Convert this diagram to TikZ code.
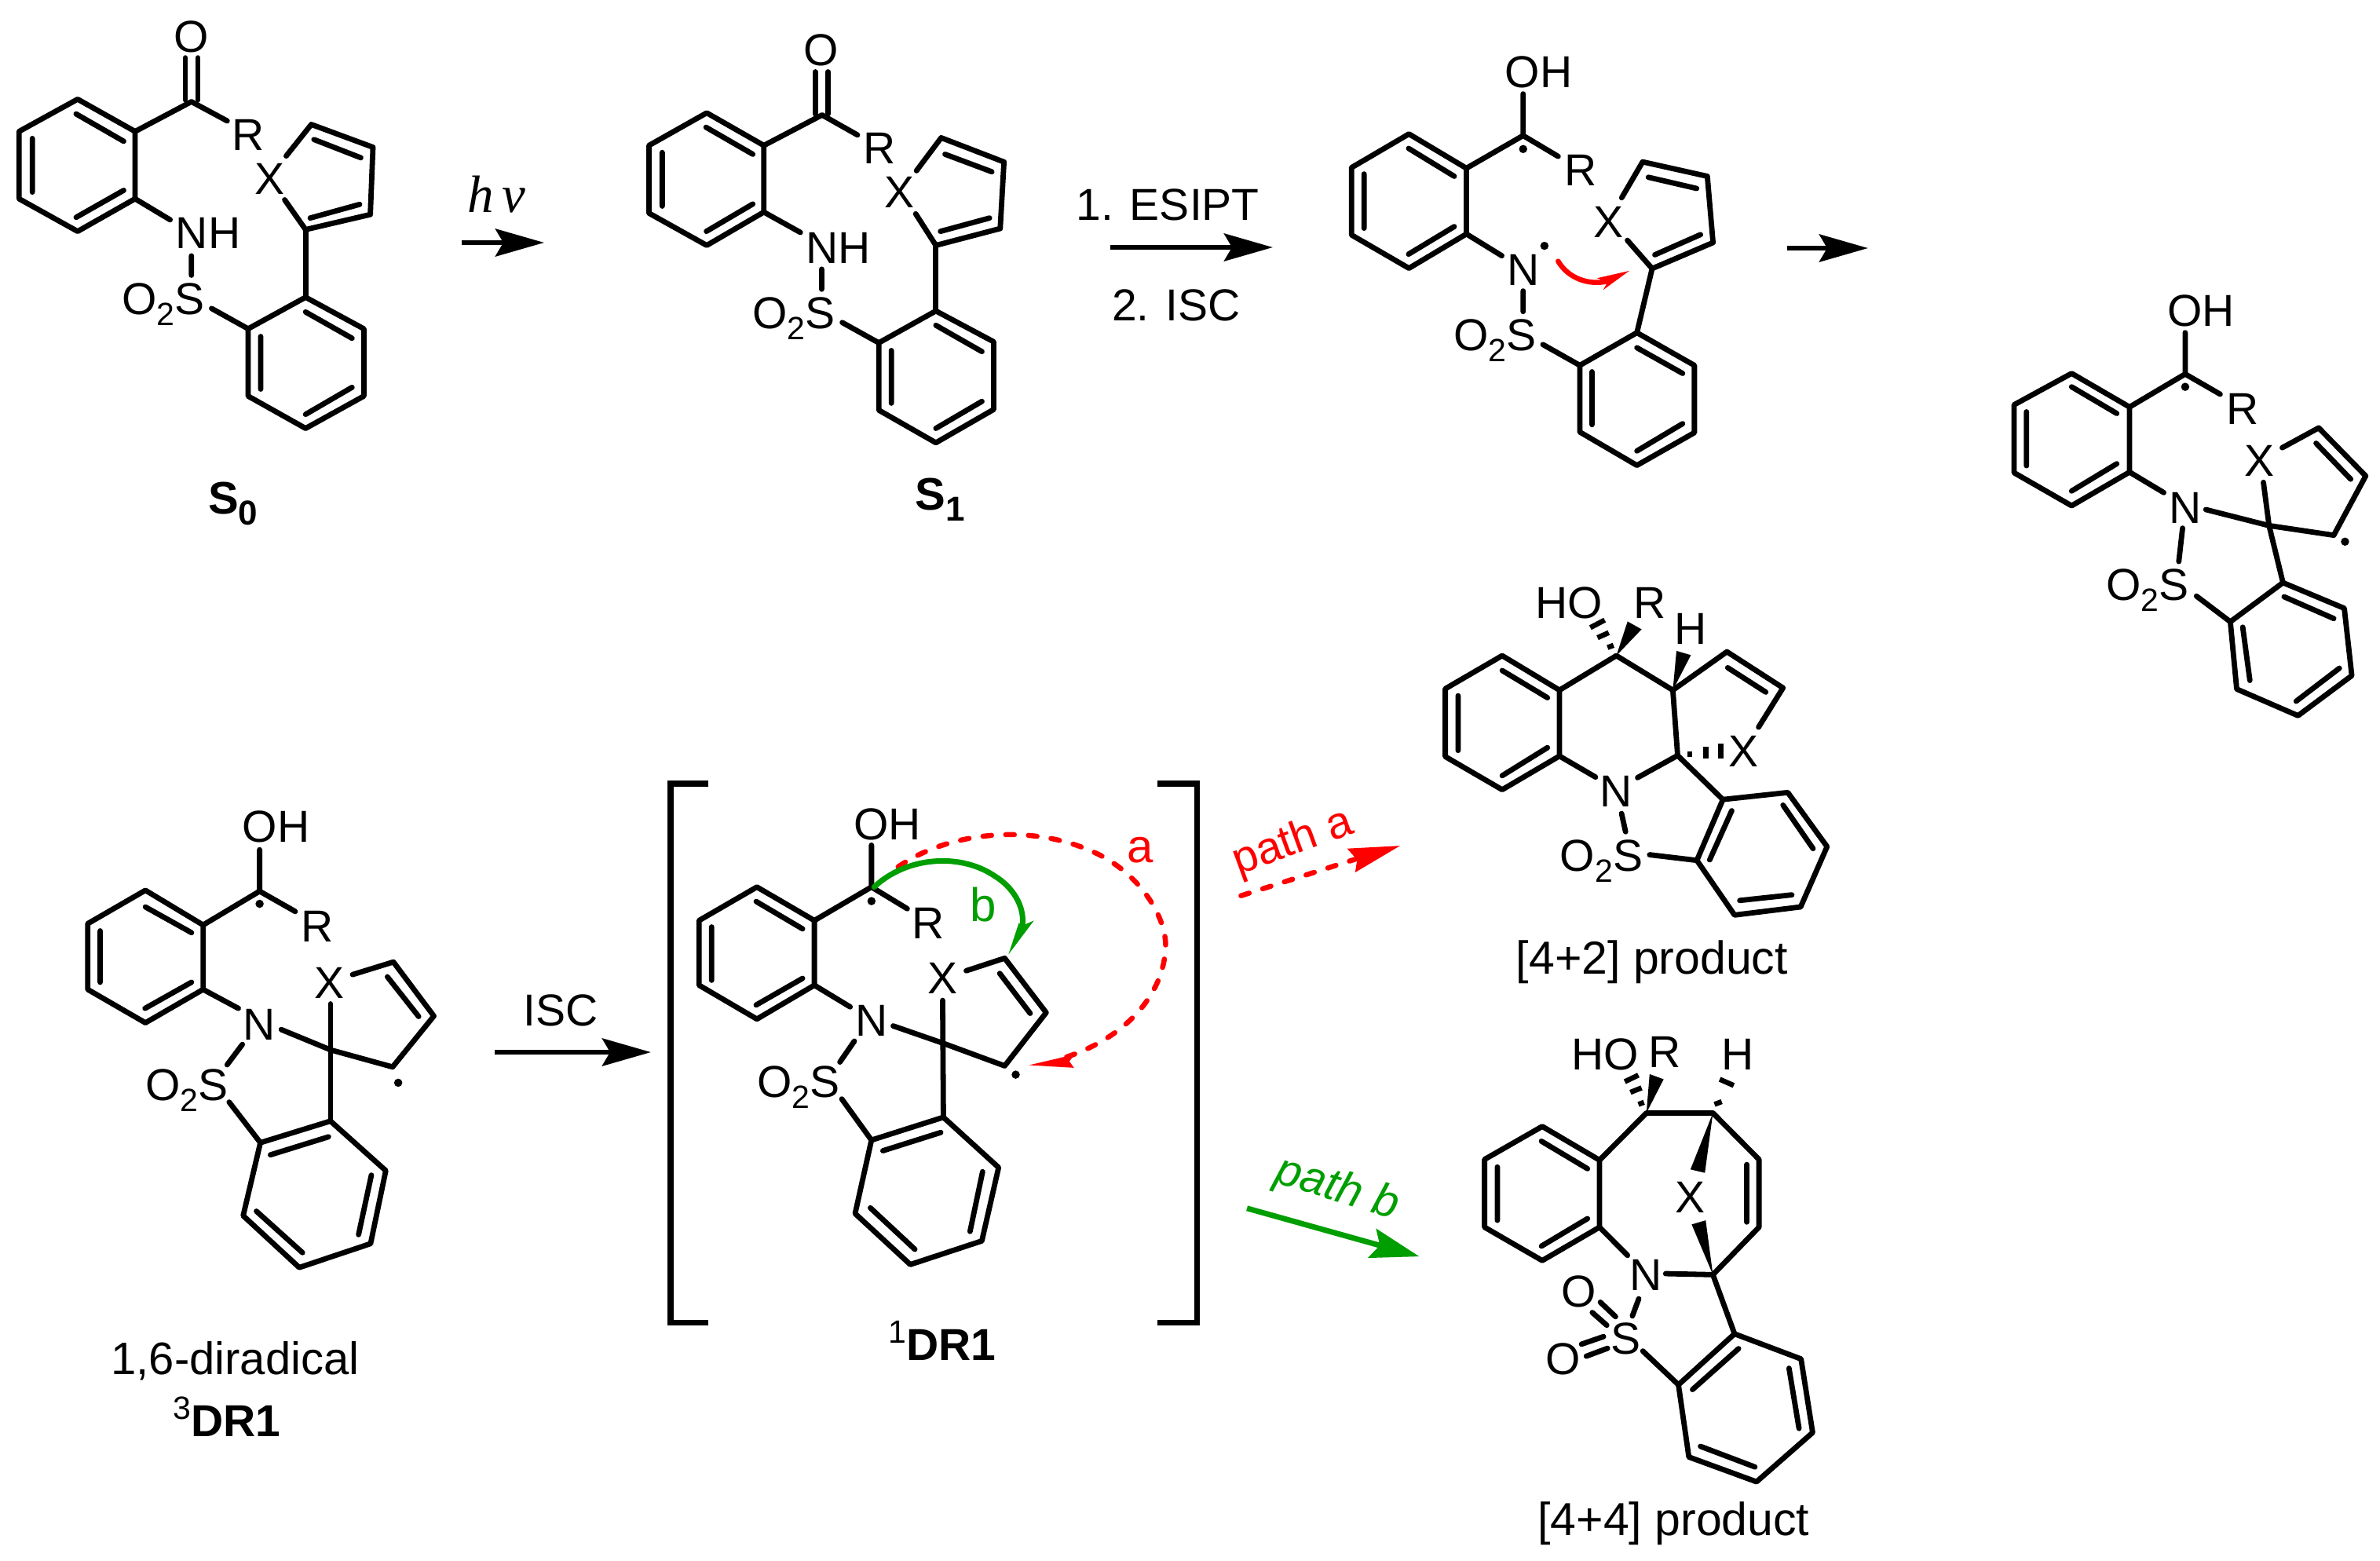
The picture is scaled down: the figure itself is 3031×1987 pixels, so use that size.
\documentclass[tikz,border=0pt]{standalone}
\usepackage{fontspec}
\setmainfont{Liberation Sans}
\newfontfamily\tmsfont{Liberation Serif}
\usetikzlibrary{arrows.meta}
\definecolor{grn}{RGB}{0,158,0}
\newcommand{\subn}[1]{\raisebox{-14pt}{\fontsize{41}{41}\selectfont #1}}
\newcommand{\subb}[1]{\raisebox{-14pt}{\fontsize{44}{44}\selectfont\bfseries #1}}
\newcommand{\supn}[1]{\raisebox{22pt}{\fontsize{41}{41}\selectfont #1}}
\tikzset{
  zm/.style n args={4}{shift={(#1,#2)},xscale=#3/1568,yscale=#4/1568},
  bond/.style={draw=black,line width=6.8pt,line cap=round,line join=round},
  bar/.style={draw=black,line width=7.5pt,line cap=butt,line join=miter},
  atom/.style={font=\fontsize{57}{60}\selectfont,inner sep=0pt,outer sep=0pt,anchor=base,text=black},
  atomr/.style={atom,anchor=base east},
  dot/.style={circle,fill=black,inner sep=0pt,minimum size=10.5pt},
  rxn/.style={draw=black,line width=6.5pt,-{Stealth[length=62pt,width=35pt,inset=10pt]}},
  wedge/.style={fill=black,draw=none},
}
\begin{document}
\begin{tikzpicture}[x=1pt,y=-1pt]
\useasboundingbox (0,0) rectangle (3031,1987);
\fill[white] (0,0) rectangle (3031,1987);
% ---------- S0
\begin{scope}[zm={0}{0}{760}{700}]
\draw[bond] (204,283)--(355,375)--(355,567)--(204,660)--(50,567)--(50,375)--cycle;
\draw[bond] (200,325)--(325,403) (325,543)--(200,620) (85,395)--(85,548);
\draw[bond] (355,375)--(503,290)--(597,345);
\draw[bond] (487,165)--(487,285) (520,165)--(520,285);
\draw[bond] (355,567)--(447,627) (503,730)--(503,785) (556,880)--(652,938);
\draw[bond] (803,848)--(956,938)--(956,1130)--(803,1222)--(652,1130)--(652,938)--cycle;
\draw[bond] (803,890)--(925,965) (925,1105)--(803,1182) (685,960)--(685,1110);
\draw[bond] (803,848)--(803,655);
\draw[bond] (748,570)--(803,655)--(973,612)--(980,420)--(818,355)--(752,445);
\draw[bond] (815,622)--(945,583) (948,450)--(825,398);
\node[atom] (s0o) at (503,148) {O};
\node[atom] (s0r) at (653,430) {R};
\node[atom] (s0x) at (708,555) {X};
\node[atom] (s0nh) at (547,710) {NH};
\node[atomr] (s0s) at (537,897) {O\subn{2}S};
\node[atom,font=\fontsize{67}{60}\selectfont\tmsfont\itshape] (hnu) at (1305,605) {h\,ν};
\node[atom,font=\fontsize{58}{60}\selectfont\bfseries] (s0lab) at (612,1465) {S\subb{0}};
\end{scope}
% ---------- S1
\begin{scope}[zm={760}{0}{760}{700}]
\draw[bond] (289,322)--(439,415)--(439,605)--(289,700)--(137,608)--(137,415)--cycle;
\draw[bond] (287,363)--(410,440) (410,582)--(288,660) (172,435)--(172,588);
\draw[bond] (439,415)--(592,328)--(685,385);
\draw[bond] (574,205)--(574,325) (608,205)--(608,325);
\draw[bond] (439,605)--(535,663) (591,768)--(591,825) (645,920)--(741,978);
\draw[bond] (891,887)--(1043,975)--(1043,1168)--(891,1263)--(741,1170)--(741,978)--cycle;
\draw[bond] (891,928)--(1012,1003) (1012,1145)--(891,1222) (774,1000)--(774,1150);
\draw[bond] (891,887)--(891,700);
\draw[bond] (838,610)--(891,700)--(1060,652)--(1070,462)--(905,393)--(840,487);
\draw[bond] (903,660)--(1032,622) (1038,490)--(915,440);
\node[atom] (s1o) at (590,187) {O};
\node[atom] (s1r) at (742,468) {R};
\node[atom] (s1x) at (795,592) {X};
\node[atom] (s1nh) at (635,752) {NH};
\node[atomr] (s1s) at (626,938) {O\subn{2}S};
\node[atom,font=\fontsize{58}{60}\selectfont\bfseries] (s1lab) at (902,1455) {S\subb{1}};
\end{scope}
% ---------- triplet N radical
\begin{scope}[zm={1520}{0}{760}{640}]
\draw[bond] (566,418)--(717,525)--(717,730)--(566,837)--(415,733)--(415,523)--cycle;
\draw[bond] (565,463)--(685,550) (685,707)--(565,793) (448,543)--(448,712);
\draw[bond] (717,525)--(866,423)--(958,488) (866,293)--(866,423);
\draw[bond] (717,730)--(810,798) (866,908)--(866,972) (918,1075)--(1015,1140);
\draw[bond] (1165,1038)--(1316,1140)--(1316,1350)--(1165,1452)--(1015,1348)--(1015,1140)--cycle;
\draw[bond] (1165,1085)--(1285,1165) (1285,1322)--(1165,1407) (1047,1160)--(1047,1325);
\draw[bond] (1165,1038)--(1205,838);
\draw[bond] (1140,750)--(1205,838)--(1365,757)--(1350,550)--(1180,505)--(1125,617);
\draw[bond] (1212,795)--(1332,732) (1322,588)--(1195,553);
\node[atom] (t1oh) at (907,272) {OH};
\node[atom] (t1r) at (1017,580) {R};
\node[atom] (t1n) at (866,890) {N};
\node[atom] (t1x) at (1090,740) {X};
\node[atomr] (t1s) at (900,1095) {O\subn{2}S};
\node[dot] (t1d1) at (866,465) {};
\node[dot] (t1d2) at (922,767) {};
\draw[red,line width=6.5pt,line cap=round] (958,815) .. controls (985,870) and (1040,890) .. (1085,878);
\fill[red] (1145,845)--(1076,905)--(1088,880)--(1060,868)--cycle;
\end{scope}
% ---------- top-right diradical
\begin{scope}[zm={2280}{300}{751}{640}]
\draw[bond] (748,430)--(902,535)--(902,738)--(748,843)--(595,740)--(595,528)--cycle;
\draw[bond] (748,472)--(868,555) (868,712)--(748,797) (628,550)--(628,718);
\draw[bond] (902,535)--(1050,432)--(1143,495) (1050,303)--(1050,432);
\draw[bond] (902,738)--(993,802) (1043,913)--(1033,1017) (1080,1125)--(1170,1205);
\draw[bond] (1310,1083)--(1473,1163)--(1493,1373)--(1350,1498)--(1187,1415)--(1170,1205)--cycle;
\draw[bond] (1313,1127)--(1445,1195) (1460,1350)--(1345,1453) (1203,1222)--(1222,1388);
\draw[bond] (1105,855)--(1273,905)--(1445,935)--(1530,750)--(1405,600)--(1308,662);
\draw[bond] (1258,770)--(1273,905)--(1310,1083);
\draw[bond] (1490,760)--(1398,648);
\node[atom] (t2oh) at (1092,282) {OH};
\node[atom] (t2r) at (1203,590) {R};
\node[atom] (t2n) at (1050,897) {N};
\node[atom] (t2x) at (1247,752) {X};
\node[atomr] (t2s) at (1060,1138) {O\subn{2}S};
\node[dot] (t2d1) at (1050,472) {};
\node[dot] (t2d2) at (1475,955) {};
\end{scope}
% ---------- 3DR1
\begin{scope}[zm={0}{980}{800}{900}]
\draw[bond] (363,268)--(507,345)--(507,488)--(363,562)--(219,488)--(219,342)--cycle;
\draw[bond] (363,305)--(478,362) (478,472)--(362,530) (250,358)--(250,472);
\draw[bond] (507,345)--(648,270)--(737,315) (648,178)--(648,270);
\draw[bond] (507,488)--(595,530) (605,610)--(567,655) (572,738)--(650,828);
\draw[bond] (825,780)--(963,890)--(925,1052)--(747,1105)--(607,990)--(650,828)--cycle;
\draw[bond] (820,815)--(675,855) (927,900)--(895,1032) (755,1072)--(640,980);
\draw[bond] (702,577)--(825,622)--(980,660)--(1083,547)--(982,427)--(880,455);
\draw[bond] (825,520)--(825,780);
\draw[bond] (1045,548)--(967,460);
\node[atom] (d3oh) at (689,162) {OH};
\node[atom] (d3r) at (792,382) {R};
\node[atom] (d3n) at (647,600) {N};
\node[atom] (d3x) at (823,507) {X};
\node[atomr] (d3s) at (570,735) {O\subn{2}S};
\node[dot] (d3d1) at (648,298) {};
\node[dot] (d3d2) at (994,695) {};
\node[atom,font=\fontsize{58}{60}\selectfont] (d3cap) at (587,1342) {1,6-diradical};
\node[atom] (d3lab) at (566,1480) {\supn{3}\textbf{DR1}};
\node[atom] (isc) at (1400,568) {ISC};
\end{scope}
% ---------- 1DR1 with brackets
\begin{scope}[zm={820}{960}{760}{760}]
\draw[bar] (170,78)--(70,78)--(70,1495)--(170,1495);
\draw[bar] (1350,78)--(1453,78)--(1453,1495)--(1350,1495);
\draw[bond] (297,350)--(448,438)--(448,608)--(297,697)--(145,608)--(145,438)--cycle;
\draw[bond] (295,388)--(417,460) (417,590)--(295,660) (178,455)--(178,595);
\draw[bond] (448,438)--(598,350)--(692,407) (598,240)--(598,350);
\draw[bond] (448,608)--(542,665) (553,755)--(515,810) (520,907)--(598,1015);
\draw[bond] (787,955)--(932,1087)--(888,1280)--(700,1342)--(555,1208)--(598,1015)--cycle;
\draw[bond] (780,995)--(628,1043) (890,1098)--(857,1255) (712,1302)--(595,1193);
\draw[bond] (655,715)--(785,760)--(948,820)--(1057,680)--(948,537)--(847,570);
\draw[bond] (785,648)--(787,955);
\draw[bond] (1015,682)--(935,577);
\node[atom] (d1oh) at (640,225) {OH};
\node[atom] (d1r) at (748,485) {R};
\node[atom] (d1n) at (598,742) {N};
\node[atom] (d1x) at (785,630) {X};
\node[atomr] (d1s) at (515,902) {O\subn{2}S};
\node[dot] (d1d1) at (598,387) {};
\node[dot] (d1d2) at (977,843) {};
\draw[red,line width=6.5pt,line cap=round,dash pattern=on 11pt off 18pt] (668,297) .. controls (800,205) and (1020,180) .. (1190,262) .. controls (1310,320) and (1380,440) .. (1370,520) .. controls (1360,640) and (1260,750) .. (1100,800);
\fill[red] (1012,818)--(1132,790)--(1118,808)--(1130,825)--cycle;
\draw[grn,line width=7pt,line cap=round] (605,350) .. controls (690,270) and (830,260) .. (920,320) .. controls (970,350) and (1000,400) .. (995,450);
\fill[grn] (958,527)--(1025,438)--(998,450)--(985,445)--cycle;
\node[atom,text=red,font=\fontsize{60}{60}\selectfont] (laba) at (1305,285) {a};
\node[atom,text=grn,font=\fontsize{60}{60}\selectfont] (labb) at (892,440) {b};
\end{scope}
\node[atom] (d1lab) at (1200,1732) {\supn{1}\textbf{DR1}};
% ---------- [4+2] product
\begin{scope}[zm={1560}{720}{800}{560}]
\draw[bond] (692,322)--(835,445)--(835,680)--(692,800)--(550,682)--(550,440)--cycle;
\draw[bond] (692,375)--(805,472) (805,650)--(692,750) (582,465)--(582,660);
\draw[bond] (835,445)--(977,322)--(1118,445)--(1253,308)--(1393,437)--(1332,577);
\draw[bond] (1255,365)--(1350,452);
\draw[bond] (1118,445)--(1130,678);
\draw[bond] (1030,757)--(1130,678)--(1243,835);
\draw[bond] (835,680)--(925,755) (990,885)--(1000,950) (1060,1032)--(1178,1052);
\draw[bond] (1243,835)--(1405,810)--(1503,1003)--(1437,1218)--(1272,1247)--(1178,1052)--cycle;
\draw[bond] (1265,875)--(1210,1050) (1393,855)--(1468,1010) (1415,1175)--(1285,1195);
\fill[wedge] (977,322)--(1005,200)--(1040,228)--cycle;
\fill[wedge] (1118,445)--(1127,305)--(1163,320)--cycle;
\draw[line width=6.5pt] (955,293)--(970,285) (930,258)--(958,240) (912,222)--(948,195);
\draw[line width=6.5pt] (1160,664)--(1160,682) (1200,648)--(1200,688) (1238,635)--(1238,688);
\node[atom] (p1ho) at (858,188) {HO};
\node[atom] (p1r) at (1060,188) {R};
\node[atom] (p1h) at (1163,280) {H};
\node[atom] (p1x) at (1295,717) {X};
\node[atom] (p1n) at (977,860) {N};
\node[atomr] (p1s) at (1043,1090) {O\subn{2}S};
\node[atom,font=\fontsize{59}{60}\selectfont] (p1lab) at (1066,1458) {[4+2] product};
\node[atom,text=red,rotate=20,anchor=center] (patha) at (170,990) {path a};
\coordinate (pas) at (40,1178);
\coordinate (pae) at (325,1048);
\draw[red,line width=6.5pt,line cap=round,dash pattern=on 11pt off 18pt] (pas)--(pae);
\fill[red] (437,1000)--(305,1010)--(330,1050)--(325,1095)--cycle;
\end{scope}
% ---------- [4+4] product
\begin{scope}[zm={1560}{1300}{800}{687}]
\draw[bond] (792,307)--(935,405)--(935,600)--(792,697)--(648,600)--(648,403)--cycle;
\draw[bond] (790,350)--(905,430) (905,575)--(790,655) (680,425)--(680,580);
\draw[bond] (935,405)--(1052,268)--(1218,268)--(1333,403)--(1333,600)--(1218,738)--(1272,910);
\draw[bond] (1303,418)--(1303,585);
\draw[bond] (935,600)--(1005,682) (1100,735)--(1218,738) (1033,808)--(1017,858);
\draw[bond] (937,818)--(975,860) (917,848)--(953,885) (890,940)--(945,918) (902,975)--(955,952);
\draw[bond] (1043,960)--(1132,1058);
\draw[bond] (1272,910)--(1438,983)--(1467,1197)--(1327,1340)--(1158,1268)--(1132,1058)--cycle;
\draw[bond] (1282,953)--(1167,1072) (1408,1010)--(1433,1185) (1323,1297)--(1187,1237);
\fill[wedge] (1218,268)--(1162,432)--(1198,442)--cycle;
\fill[wedge] (1218,738)--(1165,592)--(1200,580)--cycle;
\fill[wedge] (1052,268)--(1060,155)--(1095,170)--cycle;
\draw[line width=6.5pt] (1032,243)--(1046,237) (1012,208)--(1040,195) (998,177)--(1032,158);
\draw[line width=6.5pt] (1222,243)--(1240,235) (1235,170)--(1270,188);
\node[atom] (p2ho) at (949,143) {HO};
\node[atom] (p2r) at (1097,135) {R};
\node[atom] (p2h) at (1280,143) {H};
\node[atom] (p2x) at (1162,557) {X};
\node[atom] (p2n) at (1050,785) {N};
\node[atom] (p2s) at (1000,968) {S};
\node[atom] (p2o1) at (883,832) {O};
\node[atom] (p2o2) at (845,1028) {O};
\node[atom,font=\fontsize{59}{60}\selectfont] (p2lab) at (1120,1495) {[4+4] product};
\node[atom,text=grn,font=\fontsize{58}{60}\selectfont\itshape,rotate=-17,anchor=center] (pathb) at (280,490) {path b};
\coordinate (pbs) at (55,545);
\coordinate (pbe) at (485,685);
\draw[grn,line width=7pt,-{Stealth[length=62pt,width=38pt,inset=10pt]}] (pbs)--(pbe);
\end{scope}
% ---------- reaction arrows and their texts
\coordinate (a1s) at (588,309);
\coordinate (a1e) at (693,309);
\draw[rxn] (a1s)--(a1e);
\coordinate (a2s) at (1414,315);
\coordinate (a2e) at (1621,315);
\draw[rxn] (a2s)--(a2e);
\node[atom] (esipt) at (1487,280) {1. ESIPT};
\node[atom] (iscb) at (1498,408) {2. ISC};
\coordinate (a3s) at (2276,316);
\coordinate (a3e) at (2379,316);
\draw[rxn] (a3s)--(a3e);
\coordinate (a4s) at (630,1340);
\coordinate (a4e) at (829,1340);
\draw[rxn] (a4s)--(a4e);
\end{tikzpicture}
\end{document}
